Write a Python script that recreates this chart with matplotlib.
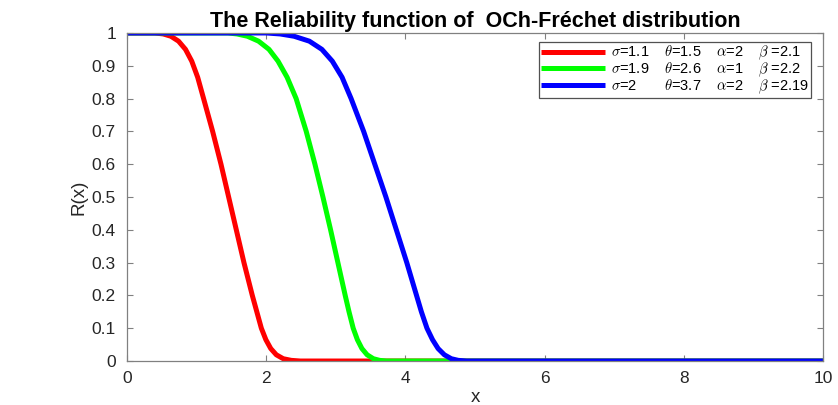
import matplotlib.pyplot as plt

# ── values ────────────────────────────────────────────────────
red_x = [0.0, 0.40, 0.52, 0.63, 0.74, 0.84, 0.93, 1.015, 1.10, 1.23, 1.35, 1.46,
         1.57, 1.68, 1.80, 1.865, 1.93, 1.995, 2.065, 2.145, 2.245, 2.36, 2.49, 10.0]
red_y = [1.0, 1.0, 0.997, 0.99, 0.975, 0.95, 0.914, 0.865, 0.80, 0.70, 0.60, 0.50,
         0.40, 0.30, 0.20, 0.15, 0.10, 0.065, 0.038, 0.019, 0.007, 0.002, 0.0, 0.0]

green_x = [0.0, 1.45, 1.58, 1.73, 1.89, 2.04, 2.17, 2.30, 2.43, 2.575, 2.70, 2.815,
           2.925, 3.03, 3.135, 3.19, 3.25, 3.31, 3.375, 3.45, 3.54, 3.63, 3.73, 10.0]
green_y = [1.0, 1.0, 0.997, 0.99, 0.975, 0.95, 0.914, 0.865, 0.80, 0.70, 0.60, 0.50,
           0.40, 0.30, 0.20, 0.15, 0.10, 0.065, 0.038, 0.019, 0.007, 0.002, 0.0, 0.0]

blue_x = [0.0, 2.00, 2.20, 2.40, 2.62, 2.80, 2.95, 3.09, 3.22, 3.40, 3.56, 3.72,
          3.87, 4.02, 4.16, 4.23, 4.31, 4.39, 4.47, 4.56, 4.66, 4.76, 4.88, 10.0]
blue_y = [1.0, 1.0, 0.997, 0.99, 0.975, 0.95, 0.914, 0.865, 0.80, 0.70, 0.60, 0.50,
          0.40, 0.30, 0.20, 0.15, 0.10, 0.065, 0.038, 0.019, 0.007, 0.002, 0.0, 0.0]

labels = [r"$\sigma$=1.1    $\theta$=1.5    $\alpha$=2    $\beta$ =2.1",
          r"$\sigma$=1.9    $\theta$=2.6    $\alpha$=1    $\beta$ =2.2",
          r"$\sigma$=2       $\theta$=3.7    $\alpha$=2    $\beta$ =2.19"]
colors = ["#ff0000", "#00ff00", "#0000ff"]

x_ticks = [0, 2, 4, 6, 8, 10]
y_ticks = [0, 0.1, 0.2, 0.3, 0.4, 0.5, 0.6, 0.7, 0.8, 0.9, 1]
y_ticklabels = ["0", "0.1", "0.2", "0.3", "0.4", "0.5", "0.6", "0.7", "0.8", "0.9", "1"]

plt.rcParams['font.family'] = ['Liberation Sans', 'DejaVu Sans']
plt.rcParams['mathtext.fontset'] = 'cm'

fig = plt.figure(figsize=(8.38, 4.05), dpi=100)
ax = fig.add_axes([0.1516, 0.1086, 0.8304, 0.81])

for xs, ys, c, lab in zip([red_x, green_x, blue_x], [red_y, green_y, blue_y],
                          colors, labels):
    ax.plot(xs, ys, color=c, lw=3.6, label=lab,
            solid_joinstyle='round', solid_capstyle='butt')

ax.set_xlim(0, 10)
ax.set_ylim(0, 1)
ax.set_xticks(x_ticks)
ax.set_yticks(y_ticks)
ax.set_yticklabels(y_ticklabels)
ax.tick_params(direction='in', top=True, right=True, length=4,
               colors='#808080', labelcolor='#262626', labelsize=12.5)
ax.tick_params(axis='x', pad=7)
ax.tick_params(axis='y', pad=8)
for sp in ax.spines.values():
    sp.set_color('#808080')
    sp.set_linewidth(0.9)

ax.set_xlabel("x", fontsize=13.5, color='#262626', labelpad=2)
ax.set_ylabel("R(x)", fontsize=13.5, color='#262626', labelpad=3)
ax.set_title("The Reliability function of  OCh-Fréchet distribution",
             fontsize=15.5, fontweight='bold', pad=4)

leg = ax.legend(loc='upper right', bbox_to_anchor=(0.983, 0.973), fontsize=10.5,
                frameon=True, fancybox=False, edgecolor='#262626',
                handlelength=4.4, handletextpad=0.4, borderpad=0.15,
                labelspacing=-0.12, borderaxespad=0.0)
leg.get_frame().set_linewidth(0.9)

fig.savefig("out.png", dpi=100)
